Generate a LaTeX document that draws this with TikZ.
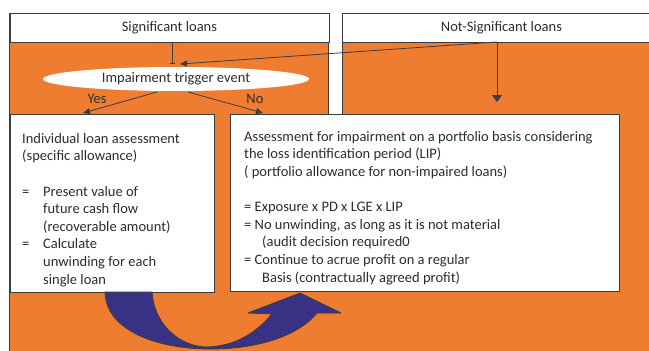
\documentclass[tikz,border=0pt]{standalone}
\usepackage{fontspec}
\setmainfont{Carlito}
\usetikzlibrary{arrows.meta,shapes.geometric}
\definecolor{orng}{RGB}{238,125,49}
\definecolor{navy}{RGB}{57,50,132}
\definecolor{edgec}{RGB}{60,60,60}
\definecolor{txtc}{RGB}{45,45,45}
\begin{document}
\begin{tikzpicture}[x=1pt,y=-1pt,
  font=\fontsize{14.5}{17.6}\selectfont,
  panel/.style={fill=orng,draw=edgec,line width=0.9pt},
  hdr/.style={fill=white,draw=edgec,line width=0.9pt,anchor=north west,inner sep=0pt,text=txtc},
  wbox/.style={fill=white,draw=edgec,line width=0.9pt,anchor=north west,inner sep=0pt},
  txt/.style={anchor=base west,align=left,inner sep=0pt,text=txtc},
  lbl/.style={inner sep=0pt,text=txtc},
  conn/.style={draw=edgec,line width=0.8pt},
  tip/.style={-{Triangle[length=7pt,width=6pt]}}
]
\useasboundingbox (0,0) rectangle (649,351);
\fill[white] (0,0) rectangle (649,351);
% panels
\path[panel] (9.5,13) rectangle (328.5,360);
\path[panel] (342,13) rectangle (660,360);
\fill[orng] (328,114) rectangle (342.5,352);
% headers
\node[hdr,minimum width=319pt,minimum height=29pt] (hdrL) at (9.5,13) {Significant loans};
\node[hdr,minimum width=318pt,minimum height=29pt] (hdrR) at (342,13) {Not-Significant loans};
% boxes
\node[wbox,minimum width=204.5pt,minimum height=178pt] (boxL) at (9.5,114) {};
\node[wbox,minimum width=389.5pt,minimum height=177pt] (boxR) at (229.5,114) {};
% ellipse
\node[ellipse,fill=white,minimum width=266pt,minimum height=24pt,inner sep=0pt,text=txtc] (trig) at (176,79) {Impairment trigger event};
% texts (anchored at the baseline of the last line)
\node[txt] (tL) at (22,284) {Individual loan assessment\\(specific allowance)\\[17.6pt]%
\makebox[21pt][l]{=}Present value of\\\hspace*{21pt}future cash flow\\\hspace*{21pt}(recoverable amount)\\%
\makebox[21pt][l]{=}Calculate\\\hspace*{21pt}unwinding for each\\\hspace*{21pt}single loan};
\node[txt] (tR) at (244,282) {Assessment for impairment on a portfolio basis considering\\the loss identification period (LIP)\\( portfolio allowance for non-impaired loans)\\[17.6pt]%
= Exposure x PD x LGE x LIP\\= No unwinding, as long as it is not material\\\hspace*{18pt}(audit decision required0\\%
= Continue to acrue profit on a regular\\\hspace*{18pt}Basis (contractually agreed profit)};
% labels
\node[lbl] (yes) at (97,99) {Yes};
\node[lbl] (no) at (255,99) {No};
% connector points
\coordinate (ys) at (157,92);
\coordinate (ye) at (83,113);
\coordinate (ns) at (188,92);
\coordinate (ne) at (263,113);
\coordinate (ls) at (172,42);
\coordinate (le) at (172,64);
\coordinate (rs) at (497,42);
\coordinate (re) at (180,64);
\coordinate (ve) at (497,102);
\draw[conn,tip] (ys) -- (ye);
\draw[conn,tip] (ns) -- (ne);
\draw[conn,-{Bar[width=5pt]}] (ls) -- (le);
\draw[conn,tip] (rs) -- (re);
\draw[conn,-{Triangle[length=7pt,width=10pt]}] (rs) -- (ve);
% curved blue arrow
\draw[fill=navy,draw=edgec,line width=0.8pt,line join=round]
  (105,292) .. controls (106,332) and (160,349) .. (210,349)
  .. controls (262,349) and (300,334) .. (317,313)
  -- (341,313) -- (300,293) -- (248,313) -- (272,314)
  .. controls (252,338) and (228,347) .. (205,347)
  .. controls (176,345) and (154,322) .. (152,292) -- cycle;
\end{tikzpicture}
\end{document}
